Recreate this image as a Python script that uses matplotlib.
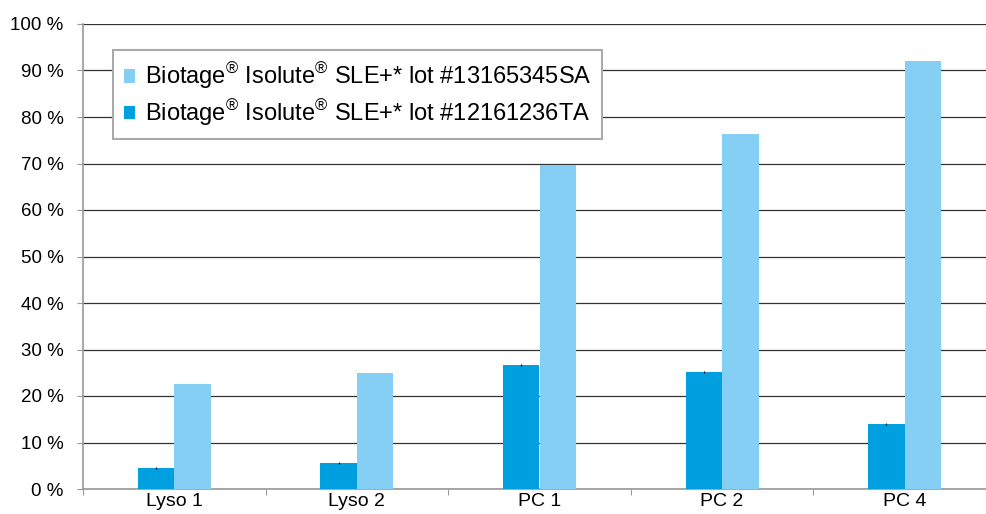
import numpy as np
import matplotlib
matplotlib.use("Agg")
import matplotlib.pyplot as plt
from matplotlib.ticker import FuncFormatter, MultipleLocator

plt.rcParams['font.family'] = ['Liberation Sans', 'DejaVu Sans']
plt.rcParams['mathtext.fontset'] = 'custom'
plt.rcParams['mathtext.rm'] = 'Liberation Sans'

categories = ["Lyso 1", "Lyso 2", "PC 1", "PC 2", "PC 4"]
lot_12161236TA = [4.5, 5.6, 26.7, 25.2, 14.0]
lot_13165345SA = [22.5, 24.9, 69.7, 76.4, 92.0]
labels = ["Biotage$^{®}$ Isolute$^{®}$ SLE+* lot #13165345SA",
          "Biotage$^{®}$ Isolute$^{®}$ SLE+* lot #12161236TA"]
colors = ["#84cff3", "#009fe0"]


def main():
    fig = plt.figure(figsize=(9.87, 5.14), dpi=100)
    ax = fig.add_axes([83 / 987, 25 / 514, 913 / 987, 465 / 514])

    x = np.arange(len(categories))
    w = 0.2
    # dark bars left, light bars right
    b_dark = ax.bar(x - w / 2, lot_12161236TA, w, color=colors[1], zorder=3,
                    yerr=[0.15] * len(x), error_kw=dict(ecolor="black", elinewidth=0.8))
    b_light = ax.bar(x + w / 2, lot_13165345SA, w, color=colors[0], zorder=3)

    ax.set_xlim(-0.5, len(categories) - 0.5)
    ax.set_ylim(0, 100)
    ax.yaxis.set_major_locator(MultipleLocator(10))
    ax.yaxis.set_major_formatter(FuncFormatter(lambda v, p: "%d %%" % v))
    ax.grid(axis="y", color="#333333", linewidth=0.9, zorder=0)

    ax.set_xticks(x)
    ax.set_xticklabels(categories)
    ax.set_xticks(np.arange(len(categories) + 1) - 0.5, minor=True)
    ax.tick_params(axis="x", which="major", length=0, labelsize=14, pad=3)
    ax.tick_params(axis="x", which="minor", length=4, color="#999999", width=0.8)
    ax.tick_params(axis="y", length=4, color="#999999", width=0.8, labelsize=13.5, pad=10)

    for s in ["top", "right"]:
        ax.spines[s].set_visible(False)
    for s in ["left", "bottom"]:
        ax.spines[s].set_color("#999999")
        ax.spines[s].set_linewidth(1.2)
    ax.set_axisbelow(True)

    leg = ax.legend([b_light, b_dark], labels, loc="upper left",
                    bbox_to_anchor=(113 / 987, 1 - 50 / 514),
                    bbox_transform=fig.transFigure,
                    fontsize=17, fancybox=False, framealpha=1,
                    edgecolor="#aaaaaa", handlelength=0.5, handleheight=0.5,
                    handletextpad=0.4, borderpad=0.45, labelspacing=0.25,
                    borderaxespad=0)
    leg.get_frame().set_linewidth(1.5)

    plt.savefig("out.png", dpi=100)


if __name__ == '__main__':
    main()
